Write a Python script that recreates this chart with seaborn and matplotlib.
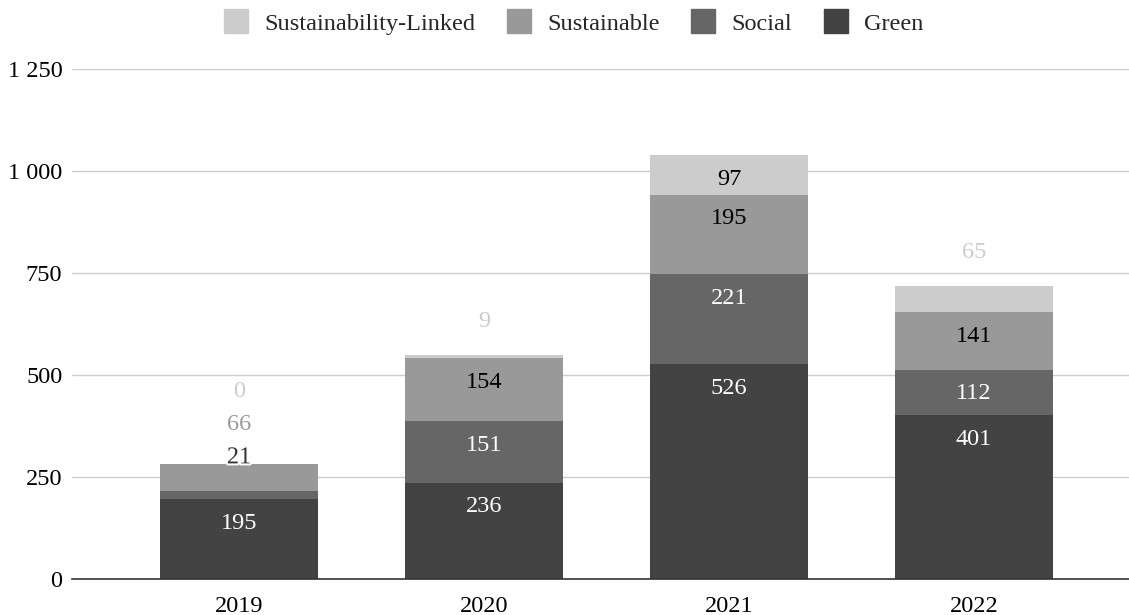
import numpy as np
import pandas as pd
import matplotlib.pyplot as plt
import matplotlib.patheffects as pe
from matplotlib.lines import Line2D
import seaborn as sns

# data
years = ['2019', '2020', '2021', '2022']
green = [195, 236, 526, 401]
social = [21, 151, 221, 112]
sustainable = [66, 154, 195, 141]
linked = [0, 9, 97, 65]

series = ['Green', 'Social', 'Sustainable', 'Sustainability-Linked']
colors = {'Green': '#434343', 'Social': '#666666',
          'Sustainable': '#999999', 'Sustainability-Linked': '#cccccc'}
inside_color = {'Green': 'white', 'Social': 'white',
                'Sustainable': 'black', 'Sustainability-Linked': 'black'}
outside_color = {'Green': '#434343', 'Social': '#333333',
                 'Sustainable': '#999999', 'Sustainability-Linked': '#cccccc'}

df = pd.DataFrame({'Year': years, 'Green': green, 'Social': social,
                   'Sustainable': sustainable, 'Sustainability-Linked': linked})
cum = df[series].cumsum(axis=1)

sns.set_theme(style='white')
plt.rcParams['font.family'] = ['Liberation Serif', 'DejaVu Serif']
FS = 17.5

fig = plt.figure(figsize=(11.29, 6.15), dpi=100)
ax = fig.add_axes([72 / 1129, 36 / 615, 1057 / 1129, 510 / 615])

# stacked bars: draw cumulative totals from the top series down
for s in reversed(series):
    sns.barplot(x=df['Year'], y=cum[s], color=colors[s], width=0.645,
                saturation=1, linewidth=0, ax=ax)

ax.set_ylim(0, 1250)
ax.set_xlim(-0.682, 3.633)
px_per_unit = 510 / 1250

# value labels: inside near the segment top, or stacked above the bar when the segment is thin
for i in range(len(years)):
    prev_px = -1e9
    for s in series:
        v = df[s][i]
        top = cum[s][i]
        if v * px_per_unit >= 32:
            ax.annotate(str(v), (i, top), xytext=(0, -24), textcoords='offset pixels',
                        ha='center', va='center', fontsize=FS, color=inside_color[s])
        else:
            y_px = top * px_per_unit + 33
            if y_px < prev_px + 33:
                y_px = prev_px + 33
            prev_px = y_px
            t = ax.annotate(str(v), (i, 0), xytext=(0, y_px), textcoords='offset pixels',
                            ha='center', va='center', fontsize=FS, color=outside_color[s])
            if s == 'Social':
                t.set_path_effects([pe.withStroke(linewidth=3, foreground='white')])

ax.set_yticks([0, 250, 500, 750, 1000, 1250])
ax.set_yticklabels([f'{v:,}'.replace(',', ' ') for v in [0, 250, 500, 750, 1000, 1250]])
ax.yaxis.grid(True, color='#cccccc', linewidth=1)
ax.set_axisbelow(True)
for sp in ['top', 'right', 'left']:
    ax.spines[sp].set_visible(False)
ax.spines['bottom'].set_color('#333333')
ax.spines['bottom'].set_linewidth(1.2)
ax.tick_params(axis='both', length=0, labelsize=FS, colors='black')
ax.tick_params(axis='y', pad=7)
ax.tick_params(axis='x', pad=12)
ax.set_xlabel('')
ax.set_ylabel('')

legend_order = ['Sustainability-Linked', 'Sustainable', 'Social', 'Green']
handles = [Line2D([], [], marker='s', linestyle='', markersize=17,
                  markerfacecolor=colors[s], markeredgecolor=colors[s]) for s in legend_order]
fig.legend(handles, legend_order, loc='upper center', bbox_to_anchor=(0.508, 1.015),
           ncol=4, frameon=False, fontsize=FS, handlelength=1.0, handletextpad=0.66,
           columnspacing=1.3)

fig.savefig('out.png', dpi=100)
